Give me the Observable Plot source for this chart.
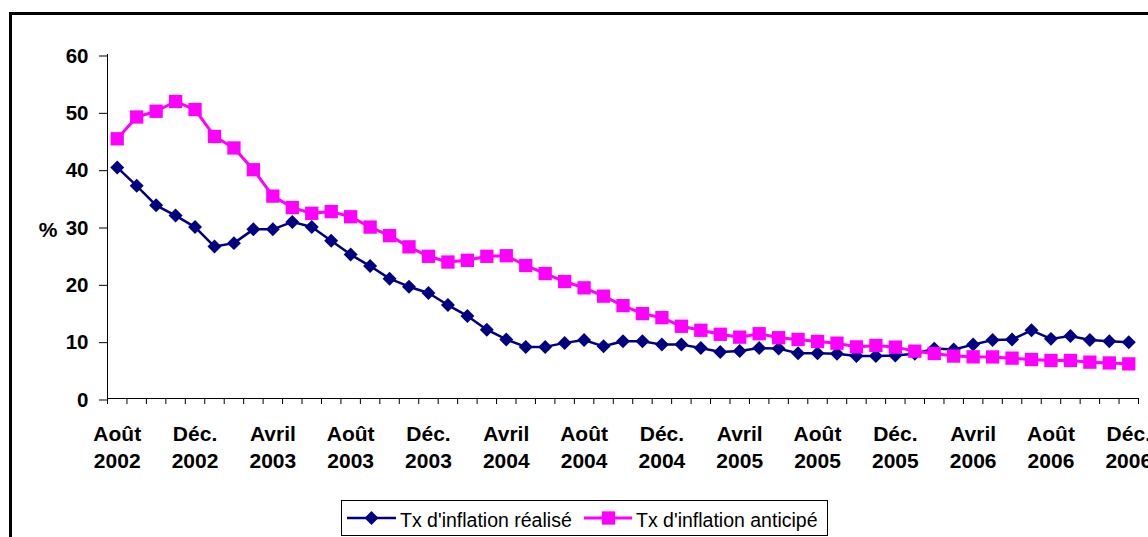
<!DOCTYPE html>
<html>
<head>
<meta charset="utf-8">
<script src="https://cdn.jsdelivr.net/npm/d3@7"></script>
<script src="https://cdn.jsdelivr.net/npm/@observablehq/plot@0.6"></script>
<style>
html,body{margin:0;padding:0;background:#fff;}
#wrap{position:relative;width:1148px;height:537px;overflow:hidden;font-family:"Liberation Sans",Arial,sans-serif;background:#fff;}
#frame{position:absolute;left:9px;top:12px;width:1250px;height:650px;border:3px solid #000;box-sizing:border-box;}
#chart{position:absolute;left:0;top:0;}
#legend{position:absolute;left:341px;top:500px;width:487px;height:36px;border:1px solid #000;box-sizing:border-box;background:#fff;}
#legend svg{position:absolute;left:0;top:0;}
</style>
</head>
<body>
<div id="wrap">
  <div id="frame"></div>
  <div id="chart"></div>
  <div id="legend"></div>
</div>
<script>
// ---- Data ----
const periods = [
  "2002-08","2002-09","2002-10","2002-11","2002-12",
  "2003-01","2003-02","2003-03","2003-04","2003-05","2003-06","2003-07","2003-08","2003-09","2003-10","2003-11","2003-12",
  "2004-01","2004-02","2004-03","2004-04","2004-05","2004-06","2004-07","2004-08","2004-09","2004-10","2004-11","2004-12",
  "2005-01","2005-02","2005-03","2005-04","2005-05","2005-06","2005-07","2005-08","2005-09","2005-10","2005-11","2005-12",
  "2006-01","2006-02","2006-03","2006-04","2006-05","2006-06","2006-07","2006-08","2006-09","2006-10","2006-11","2006-12"
];
const realise = [
  40.3, 37.1, 33.7, 31.9, 29.9, 26.5, 27.1, 29.5, 29.5, 30.8, 29.9, 27.5, 25.1,
  23.1, 20.9, 19.5, 18.4, 16.3, 14.4, 12.0, 10.3, 9.0, 9.0, 9.7, 10.2, 9.1,
  10.0, 10.0, 9.4, 9.4, 8.8, 8.1, 8.3, 8.8, 8.7, 7.9, 7.9, 7.8, 7.4, 7.4,
  7.5, 7.8, 8.7, 8.55, 9.4, 10.2, 10.3, 11.9, 10.4, 10.9, 10.2, 10.0, 9.8
];
const anticipe = [
  45.3, 49.1, 50.1, 51.8, 50.4, 45.7, 43.7, 39.9, 35.3, 33.3, 32.3, 32.6, 31.7,
  29.9, 28.4, 26.45, 24.8, 23.8, 24.1, 24.8, 24.9, 23.2, 21.8, 20.4, 19.3, 17.85,
  16.2, 14.8, 14.1, 12.6, 11.9, 11.2, 10.7, 11.3, 10.6, 10.3, 9.95, 9.65, 9.0,
  9.25, 8.96, 8.26, 7.85, 7.4, 7.27, 7.25, 7.04, 6.8, 6.63, 6.63, 6.34, 6.2, 6.04
];
const tickPeriods = ["2002-08","2002-12","2003-04","2003-08","2003-12","2004-04","2004-08","2004-12","2005-04","2005-08","2005-12","2006-04","2006-08","2006-12"];
const tickLabels = ["Août\n2002","Déc.\n2002","Avril\n2003","Août\n2003","Déc.\n2003","Avril\n2004","Août\n2004","Déc.\n2004","Avril\n2005","Août\n2005","Déc.\n2005","Avril\n2006","Août\n2006","Déc.\n2006"];
const yTicks = [0, 10, 20, 30, 40, 50, 60];
const seriesNames = ["Tx d'inflation réalisé", "Tx d'inflation anticipé"];
const seriesColors = ["#000080", "#FF00FF"];
const yLabel = "%";

// ---- Build table ----
const rows = periods.map((p, i) => ({i, p, realise: realise[i], anticipe: anticipe[i]}));
const boundaries = d3.range(periods.length + 1).map(k => k - 0.5);
const labelRows = tickPeriods.map((p, k) => ({i: periods.indexOf(p), label: tickLabels[k]}));

const FONT = '"Liberation Sans", Arial, sans-serif';

const chart = Plot.plot({
  width: 1148,
  height: 537,
  marginLeft: 107,
  marginRight: 10,
  marginTop: 54,
  marginBottom: 139,
  style: {fontFamily: FONT, background: "transparent", overflow: "visible"},
  x: {type: "linear", domain: [-0.5, periods.length - 0.5], axis: null},
  y: {domain: [0, 60], axis: null},
  marks: [
    Plot.axisY({ticks: yTicks, tickSize: 8, tickPadding: 11, fontSize: 20.5, fontWeight: "bold",
                label: null, stroke: "#000", fill: "#000", dy: 1.5}),
    Plot.axisX({ticks: boundaries, tickSize: 6, tickFormat: () => "", label: null, stroke: "#000"}),
    Plot.ruleX([-0.5], {stroke: "#000", strokeWidth: 1}),
    Plot.ruleY([0], {stroke: "#000", strokeWidth: 1}),
    Plot.text(labelRows, {x: "i", text: "label", frameAnchor: "bottom", lineAnchor: "top",
                          dy: 23, lineHeight: 1.3, fontSize: 21, fontWeight: "bold", fill: "#000"}),
    Plot.text([yLabel], {frameAnchor: "left", textAnchor: "middle", dx: -59.5, dy: 4, fontSize: 21, fontWeight: "bold", fill: "#000"}),
    Plot.line(rows, {x: "i", y: "realise", stroke: seriesColors[0], strokeWidth: 2.5}),
    Plot.dot(rows, {x: "i", y: "realise", symbol: "diamond2", r: 6.3, fill: seriesColors[0]}),
    Plot.line(rows, {x: "i", y: "anticipe", stroke: seriesColors[1], strokeWidth: 3}),
    Plot.dot(rows, {x: "i", y: "anticipe", symbol: "square", r: 7.5, fill: seriesColors[1]})
  ]
});
document.getElementById("chart").appendChild(chart);

// ---- Legend ----
const lg = d3.select("#legend").append("svg").attr("width", 485).attr("height", 34);
const items = [
  {x0: 5, x1: 54, cx: 29.5, tx: 58, sym: d3.symbolDiamond2, size: Math.PI * 6.3 * 6.3, w: 2.5},
  {x0: 242, x1: 290, cx: 266.5, tx: 294, sym: d3.symbolSquare, size: Math.PI * 7.5 * 7.5, w: 3}
];
items.forEach((it, k) => {
  const g = lg.append("g");
  g.append("line").attr("x1", it.x0).attr("x2", it.x1).attr("y1", 17).attr("y2", 17)
    .attr("stroke", seriesColors[k]).attr("stroke-width", it.w);
  g.append("path").attr("d", d3.symbol(it.sym, it.size)()).attr("transform", `translate(${it.cx},17)`)
    .attr("fill", seriesColors[k]);
  g.append("text").attr("x", it.tx).attr("y", 25.5).attr("font-family", FONT).attr("font-size", 19.5)
    .attr("fill", "#000").text(seriesNames[k]);
});
</script>
</body>
</html>
